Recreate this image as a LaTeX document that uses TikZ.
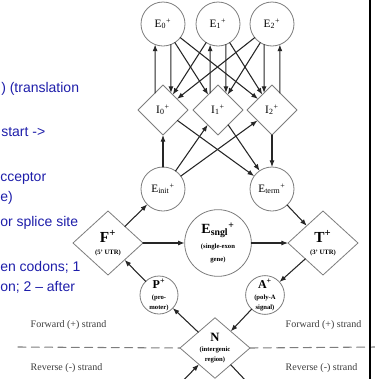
\documentclass[tikz,border=0pt]{standalone}
\usepackage{fontspec}
\setmainfont{Liberation Serif}
\newfontfamily\slidefont{Liberation Sans}
\usetikzlibrary{shapes.geometric,arrows.meta}
\definecolor{slideblue}{RGB}{30,30,170}
\definecolor{rimgray}{RGB}{125,125,125}
\definecolor{inkgray}{RGB}{60,60,60}
\tikzset{
  exon/.style={circle,draw=rimgray,line width=0.6pt,fill=white,minimum size=33pt,inner sep=0pt,outer sep=0pt,font=\fontsize{8.5}{9}\selectfont},
  intron/.style={diamond,draw=rimgray,line width=0.6pt,fill=white,minimum size=37.5pt,inner sep=0pt,outer sep=0pt,font=\fontsize{8.5}{9}\selectfont},
  utr/.style={diamond,draw=rimgray,line width=0.6pt,fill=white,minimum width=52.5pt,minimum height=48pt,inner sep=0pt,outer sep=0pt,align=center,font=\fontsize{5}{8}\selectfont\bfseries},
  site/.style={circle,draw=rimgray,line width=0.6pt,fill=white,minimum size=28.5pt,inner sep=0pt,outer sep=0pt,align=center,font=\fontsize{5}{8}\selectfont\bfseries},
  trans/.style={->,line width=0.8pt,black!85},
  strand/.style={anchor=west,text=inkgray,font=\fontsize{7.5}{8}\selectfont},
  note/.style={anchor=base west,inner sep=0pt,text=slideblue,font=\slidefont\fontsize{10.5}{12}\selectfont}
}
\begin{document}
\begin{tikzpicture}[x=0.75pt,y=-0.75pt,>={Latex[length=5pt,width=3.8pt]},line cap=round,line join=round]
	\useasboundingbox (0,0) rectangle (375,379);
	\clip (0,0) rectangle (375,379);
	% slide text, cut at the left edge
	\node[note] (n1) at (1,92) {) (translation};
	\node[note] (n2) at (1,136) {start ->};
	\node[note] (n3) at (0,181) {cceptor};
	\node[note] (n4) at (0,201) {e)};
	\node[note] (n5) at (0,226) {or splice site};
	\node[note] (n6) at (0,271) {en codons; 1};
	\node[note] (n7) at (0,291) {on; 2 – after};
	% exons and introns
	\node[exon] (E0) at (163,24) {E\textsubscript{0}\textsuperscript{+}};
	\node[exon] (E1) at (218,24) {E\textsubscript{1}\textsuperscript{+}};
	\node[exon] (E2) at (272,24) {E\textsubscript{2}\textsuperscript{+}};
	\node[intron] (I0) at (163,110) {I\textsubscript{0}\textsuperscript{+}};
	\node[intron] (I1) at (218,110) {I\textsubscript{1}\textsuperscript{+}};
	\node[intron] (I2) at (272,110) {I\textsubscript{2}\textsuperscript{+}};
	\node[exon] (Einit) at (163,189) {E\textsubscript{init}\textsuperscript{+}};
	\node[exon] (Eterm) at (272,189) {E\textsubscript{term}\textsuperscript{+}};
	\node[utr] (F) at (108,243) {{\fontsize{11.5}{11}\selectfont F\textsuperscript{+}}\\[1pt](5' UTR)};
	\node[utr] (T) at (323,243) {{\fontsize{11.5}{11}\selectfont T\textsuperscript{+}}\\[1pt](3' UTR)};
	\node[site,minimum size=50pt,font=\fontsize{5}{10}\selectfont\bfseries] (Es) at (218,243) {{\fontsize{10.5}{10}\selectfont E\textsubscript{sngl}\textsuperscript{+}}\\[1pt](single-exon\\gene)};
	\node[site] (P) at (159,295) {{\fontsize{9}{9}\selectfont P\textsuperscript{+}}\\(pro-\\moter)};
	\node[site] (A) at (265,295) {{\fontsize{9}{9}\selectfont A\textsuperscript{+}}\\(poly-A\\signal)};
	\node[utr,minimum height=42pt,font=\fontsize{5}{7.5}\selectfont\bfseries] (N) at (215,348) {{\fontsize{9.5}{9}\selectfont N}\\(intergenic\\region)};
	% exon <-> intron, same phase
	\draw[trans] (I0.115) -- (E0.249);
	\draw[trans] (E0.291) -- (I0.65);
	\draw[trans] (I1.115) -- (E1.249);
	\draw[trans] (E1.291) -- (I1.65);
	\draw[trans] (E2.249) -- (I2.115);
	\draw[trans] (I2.65) -- (E2.291);
	% phase changes
	\foreach \a/\b in {E0/I1,E0/I2,E1/I0,E1/I2,E2/I0,E2/I1}
		\draw[trans] (\a) -- (\b);
	\foreach \b in {I0,I1,I2}
		\draw[trans] (Einit) -- (\b);
	\foreach \a in {I0,I1,I2}
		\draw[trans] (\a) -- (Eterm);
	% forward strand loop
	\draw[trans] (F) -- (Einit);
	\draw[trans] (F) -- (Es);
	\draw[trans] (Es) -- (T);
	\draw[trans] (Eterm) -- (T);
	\draw[trans] (T) -- (A);
	\draw[trans] (A) -- (N);
	\draw[trans] (N) -- (P);
	\draw[trans] (P) -- (F);
	% reverse strand, cut off
	\coordinate (revL) at (168,396);
	\coordinate (revR) at (262,398);
	\draw[trans] (revL) -- (N);
	\draw[line width=0.8pt,black!85] (N) -- (revR);
	% strand border
	\coordinate (dashL) at (18,347);
	\coordinate (dashR) at (376,347);
	\draw[rimgray,line width=0.8pt,dash pattern=on 6pt off 4pt] (dashL) -- (N.west);
	\draw[rimgray,line width=0.8pt,dash pattern=on 6pt off 4pt] (N.east) -- (dashR);
	\node[strand] (fwL) at (26,325) {Forward (+) strand};
	\node[strand] (fwR) at (281,325) {Forward (+) strand};
	\node[strand] (rvL) at (26,368) {Reverse (-) strand};
	\node[strand] (rvR) at (281,368) {Reverse (-) strand};
	% slide edge
	\coordinate (railT) at (370,0);
	\coordinate (railB) at (370,379);
	\draw[line width=1.3pt] (railT) -- (railB);
\end{tikzpicture}
\end{document}
